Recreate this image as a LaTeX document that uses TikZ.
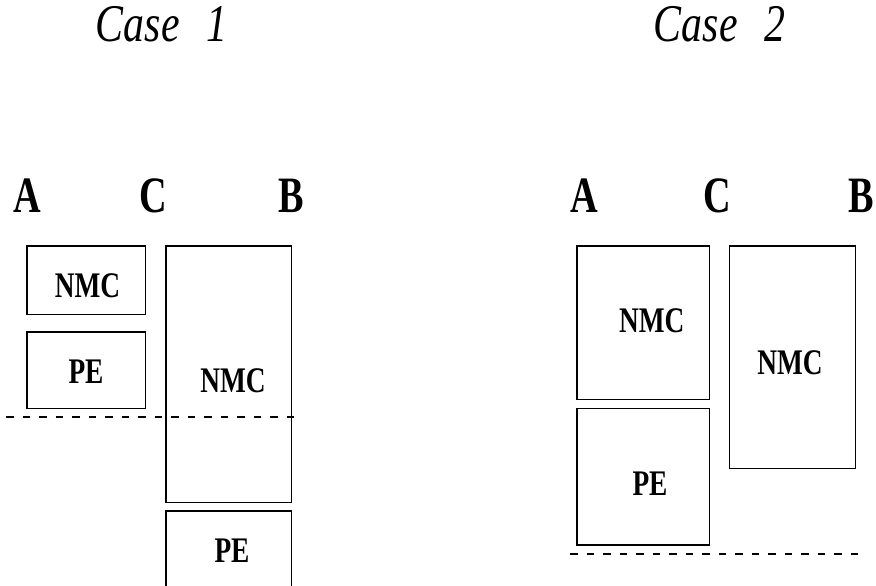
\documentclass[tikz,border=0pt]{standalone}
\usepackage{fontspec}
\newfontfamily\labfont{Liberation Serif Bold}[FakeStretch=0.76]
\newfontfamily\colfont{Liberation Serif Bold}[FakeStretch=0.75]
\newfontfamily\ttlfont{Liberation Serif Italic}[FakeStretch=0.79]
\begin{document}
\begin{tikzpicture}[x=1pt,y=-1pt,
  box/.style={draw, line width=1.6pt, inner sep=0pt},
  lbl/.style={font=\labfont\fontsize{36}{36}\selectfont, anchor=base, inner sep=0pt},
  col/.style={font=\colfont\fontsize{51}{51}\selectfont, anchor=base, inner sep=0pt},
  ttl/.style={font=\ttlfont\fontsize{53}{53}\selectfont, anchor=base, inner sep=0pt},
  dline/.style={line width=2pt, dash pattern=on 7.5pt off 9pt}]
\path[use as bounding box, clip] (0,0) rectangle (876,586);
% titles
\node[ttl] (t1) at (161.5,42) {Case\hspace{0.5em}1};
\node[ttl] (t2) at (719.5,42) {Case\hspace{0.5em}2};
% Case 1 column labels
\node[col] (a1) at (27.5,212) {A};
\node[col] (c1) at (153,212) {C};
\node[col] (b1) at (291,212) {B};
% Case 1 boxes
\node[box, minimum width=118.6pt, minimum height=68.6pt] (n1) at (86,280) {};
\node[box, minimum width=118.6pt, minimum height=76.6pt] (p1) at (86,370) {};
\node[box, minimum width=125.3pt, minimum height=256.6pt] (n2) at (228.65,374) {};
\node[box, minimum width=125.3pt, minimum height=100pt] (p2) at (228.65,560.7) {};
\node[lbl] (tn1) at (87.5,297) {NMC};
\node[lbl] (tp1) at (86,383) {PE};
\node[lbl] (tn2) at (233,392) {NMC};
\node[lbl] (tp2) at (232,562) {PE};
\coordinate (d1s) at (6,416.7);
\coordinate (d1e) at (298,416.7);
\draw[dline] (d1s) -- (d1e);
% Case 2 column labels
\node[col] (a2) at (584,212) {A};
\node[col] (c2) at (717.5,212) {C};
\node[col] (b2) at (861.5,212) {B};
% Case 2 boxes
\node[box, minimum width=132.6pt, minimum height=153.6pt] (n3) at (643,322.5) {};
\node[box, minimum width=132.6pt, minimum height=136.7pt] (p3) at (643,476.65) {};
\node[box, minimum width=126pt, minimum height=222.6pt] (n4) at (792.3,357) {};
\node[lbl] (tn3) at (651.7,332) {NMC};
\node[lbl] (tp3) at (650,495) {PE};
\node[lbl] (tn4) at (790,374) {NMC};
\coordinate (d2s) at (570,554.3);
\coordinate (d2e) at (863,554.3);
\draw[dline] (d2s) -- (d2e);
\end{tikzpicture}
\end{document}
